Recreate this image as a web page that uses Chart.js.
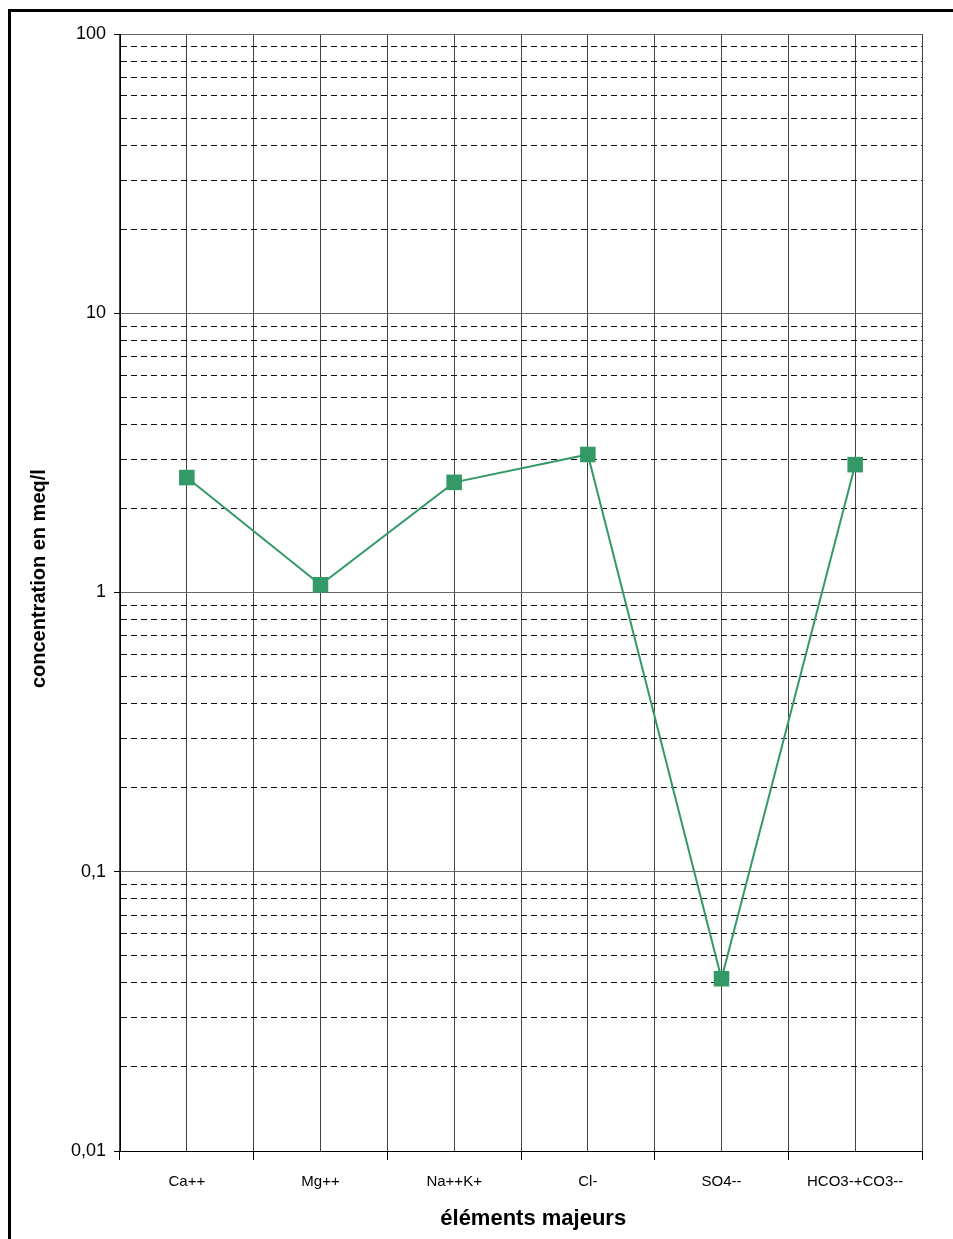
<!DOCTYPE html>
<html>
<head>
<meta charset="utf-8">
<script src="https://cdn.jsdelivr.net/npm/chart.js@4.4.0/dist/chart.umd.min.js"></script>
<style>
  html, body { margin: 0; padding: 0; background: #fff; overflow: hidden; }
  #frame { position: absolute; left: 8px; top: 9px; width: 1000px; height: 1300px; border: 3px solid #000; }
  #chart { position: absolute; left: 0; top: 0; }
</style>
</head>
<body>
<div id="frame"></div>
<canvas id="chart" width="953" height="1239"></canvas>
<script>
const categories = ["Ca++", "Mg++", "Na++K+", "Cl-", "SO4--", "HCO3-+CO3--"];
const concentrations = [2.58, 1.066, 2.48, 3.12, 0.0414, 2.87];
const decades = [0.01, 0.1, 1, 10, 100];
const decadeLabels = ["0,01", "0,1", "1", "10", "100"];

const isDecade = (v) => {
    const l = Math.log10(v);
    return Math.abs(l - Math.round(l)) < 1e-9;
};

const ctx = document.getElementById("chart").getContext("2d");

new Chart(ctx, {
    type: "line",
    data: {
        labels: categories,
        datasets: [
            {
                data: concentrations,
                borderColor: "#339966",
                backgroundColor: "#339966",
                borderWidth: 2,
                pointStyle: "rect",
                pointRadius: 11,
                pointBorderWidth: 0,
                tension: 0,
                clip: false,
            },
        ],
    },
    options: {
        responsive: false,
        animation: false,
        layout: {
            padding: { top: 34, right: 31, bottom: 0, left: 0 },
        },
        plugins: {
            legend: { display: false },
            tooltip: { enabled: false },
        },
        scales: {
            x: {
                type: "category",
                position: "bottom",
                offset: true,
                grid: {
                    offset: true,
                    color: "#444",
                    lineWidth: 1,
                    tickLength: 9,
                    tickColor: "#000",
                },
                border: { color: "#000", width: 1 },
                ticks: {
                    color: "#000",
                    font: { family: "Liberation Sans, Arial", size: 15 },
                    padding: 13,
                    maxRotation: 0,
                    autoSkip: false,
                },
                title: {
                    display: true,
                    // leading spaces nudge the title right, like the original
                    text: "    éléments majeurs",
                    color: "#000",
                    font: { family: "Liberation Sans, Arial", size: 22, weight: "bold" },
                    padding: { top: 0, bottom: 7 },
                },
                afterFit: (scale) => {
                    scale.height = 88;
                },
            },
            x2: {
                type: "category",
                position: "bottom",
                offset: true,
                grid: {
                    offset: false,
                    color: "#444",
                    lineWidth: 1,
                    drawTicks: false,
                },
                border: { display: false },
                ticks: { display: false },
                afterFit: (scale) => {
                    scale.height = 0;
                },
            },
            y: {
                type: "logarithmic",
                min: 0.01,
                max: 100,
                afterBuildTicks: (scale) => {
                    const ticks = [];
                    for (let i = 0; i < decades.length - 1; i++) {
                        for (let k = 1; k <= 9; k++) {
                            ticks.push({ value: Number((decades[i] * k).toPrecision(3)) });
                        }
                    }
                    ticks.push({ value: decades[decades.length - 1] });
                    scale.ticks = ticks;
                },
                grid: {
                    color: (c) => (c.tick && !isDecade(c.tick.value) ? "#111" : "#666"),
                    lineWidth: 1,
                    tickLength: 6,
                    tickColor: (c) => (c.tick && isDecade(c.tick.value) ? "#000" : "rgba(0,0,0,0)"),
                },
                border: {
                    color: "#000",
                    width: 1,
                    dash: (c) => (c.tick && !isDecade(c.tick.value) ? [6, 4] : []),
                },
                ticks: {
                    color: "#000",
                    font: { family: "Liberation Sans, Arial", size: 18 },
                    padding: 8,
                    autoSkip: false,
                    callback: (value) => {
                        const i = decades.findIndex((d) => Math.abs(d - value) < d * 1e-6);
                        return i >= 0 ? decadeLabels[i] : "";
                    },
                },
                title: {
                    display: true,
                    // leading spaces lift the rotated title a little
                    text: "     concentration en meq/l",
                    color: "#000",
                    font: { family: "Liberation Sans, Arial", size: 20, weight: "bold" },
                    padding: { top: 27, bottom: 0 },
                },
                afterFit: (scale) => {
                    scale.width = 120;
                },
            },
        },
    },
});
</script>
</body>
</html>
